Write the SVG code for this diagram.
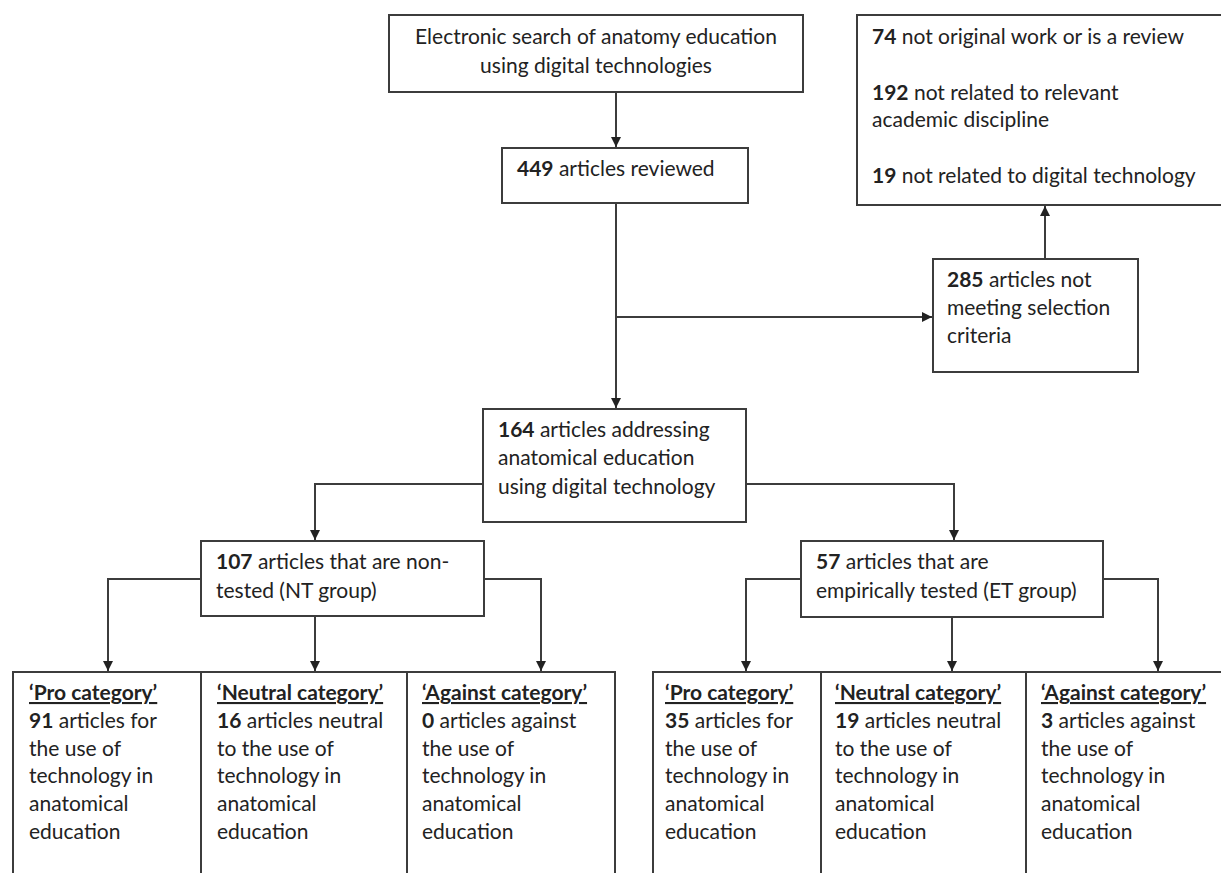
<svg xmlns="http://www.w3.org/2000/svg" width="1221" height="873" viewBox="0 0 1221 873">
<style>
.box{fill:#fff;stroke:#3c3c3c;stroke-width:2}
.con{fill:none;stroke:#3c3c3c;stroke-width:2}
text{font-family:Lato,"Liberation Sans",sans-serif;font-size:21px;fill:#222}
.b{font-weight:bold}
.h{font-weight:bold;text-decoration:underline}
</style>
<defs>
<marker id="arr" viewBox="0 0 10 10" refX="10" refY="5" markerWidth="5" markerHeight="5" orient="auto" markerUnits="strokeWidth">
<path d="M0,0 L10,5 L0,10 z" fill="#222"/>
</marker>
</defs>
<rect width="1221" height="873" fill="#fff"/>
<g id="connectors">
<path class="con" d="M616,92 V147" marker-end="url(#arr)"/>
<path class="con" d="M616,203 V408" marker-end="url(#arr)"/>
<path class="con" d="M616,317 H932" marker-end="url(#arr)"/>
<path class="con" d="M1045,259 V206" marker-end="url(#arr)"/>
<path class="con" d="M483,484 H315 V540" marker-end="url(#arr)"/>
<path class="con" d="M746,484 H954 V540" marker-end="url(#arr)"/>
<path class="con" d="M201,579 H108 V671" marker-end="url(#arr)"/>
<path class="con" d="M315,616 V671" marker-end="url(#arr)"/>
<path class="con" d="M484,579 H541 V671" marker-end="url(#arr)"/>
<path class="con" d="M801,579 H746 V671" marker-end="url(#arr)"/>
<path class="con" d="M952,617 V671" marker-end="url(#arr)"/>
<path class="con" d="M1103,579 H1158 V671" marker-end="url(#arr)"/>
</g>
<g id="search">
<rect class="box" x="389" y="15" width="414" height="77"/>
<text x="596" y="44" text-anchor="middle">Electronic search of anatomy education</text>
<text x="596" y="73" text-anchor="middle">using digital technologies</text>
</g>
<g id="reviewed">
<rect class="box" x="502" y="148" width="246" height="55"/>
<text x="517" y="176"><tspan class="b">449</tspan> articles reviewed</text>
</g>
<g id="excluded">
<rect class="box" x="857" y="15" width="370" height="190"/>
<text x="872" y="44"><tspan class="b">74</tspan> not original work or is a review</text>
<text x="872" y="100"><tspan class="b">192</tspan> not related to relevant</text>
<text x="872" y="127">academic discipline</text>
<text x="872" y="183"><tspan class="b">19</tspan> not related to digital technology</text>
</g>
<g id="notmeeting">
<rect class="box" x="933" y="259" width="205" height="113"/>
<text x="947" y="287"><tspan class="b">285</tspan> articles not</text>
<text x="947" y="315">meeting selection</text>
<text x="947" y="343">criteria</text>
</g>
<g id="addressing">
<rect class="box" x="483" y="409" width="263" height="113"/>
<text x="498" y="437"><tspan class="b">164</tspan> articles addressing</text>
<text x="498" y="465">anatomical education</text>
<text x="498" y="494">using digital technology</text>
</g>
<g id="nt">
<rect class="box" x="201" y="541" width="283" height="75"/>
<text x="216" y="569"><tspan class="b">107</tspan> articles that are non-</text>
<text x="216" y="598">tested (NT group)</text>
</g>
<g id="et">
<rect class="box" x="801" y="541" width="302" height="76"/>
<text x="816" y="569"><tspan class="b">57</tspan> articles that are</text>
<text x="816" y="598">empirically tested (ET group)</text>
</g>
<g id="nt-pro">
<rect class="box" x="13" y="672" width="188" height="220"/>
<text x="29" y="700" class="h">‘Pro category’</text>
<text x="29" y="728"><tspan class="b">91</tspan> articles for</text>
<text x="29" y="756">the use of</text>
<text x="29" y="783">technology in</text>
<text x="29" y="811">anatomical</text>
<text x="29" y="839">education</text>
</g>
<g id="nt-neutral">
<rect class="box" x="201" y="672" width="206" height="220"/>
<text x="217" y="700" class="h">‘Neutral category’</text>
<text x="217" y="728"><tspan class="b">16</tspan> articles neutral</text>
<text x="217" y="756">to the use of</text>
<text x="217" y="783">technology in</text>
<text x="217" y="811">anatomical</text>
<text x="217" y="839">education</text>
</g>
<g id="nt-against">
<rect class="box" x="407" y="672" width="208" height="220"/>
<text x="422" y="700" class="h">‘Against category’</text>
<text x="422" y="728"><tspan class="b">0</tspan> articles against</text>
<text x="422" y="756">the use of</text>
<text x="422" y="783">technology in</text>
<text x="422" y="811">anatomical</text>
<text x="422" y="839">education</text>
</g>
<g id="et-pro">
<rect class="box" x="653" y="672" width="168" height="220"/>
<text x="665" y="700" class="h">‘Pro category’</text>
<text x="665" y="728"><tspan class="b">35</tspan> articles for</text>
<text x="665" y="756">the use of</text>
<text x="665" y="783">technology in</text>
<text x="665" y="811">anatomical</text>
<text x="665" y="839">education</text>
</g>
<g id="et-neutral">
<rect class="box" x="821" y="672" width="205" height="220"/>
<text x="835" y="700" class="h">‘Neutral category’</text>
<text x="835" y="728"><tspan class="b">19</tspan> articles neutral</text>
<text x="835" y="756">to the use of</text>
<text x="835" y="783">technology in</text>
<text x="835" y="811">anatomical</text>
<text x="835" y="839">education</text>
</g>
<g id="et-against">
<rect class="box" x="1026" y="672" width="210" height="220"/>
<text x="1041" y="700" class="h">‘Against category’</text>
<text x="1041" y="728"><tspan class="b">3</tspan> articles against</text>
<text x="1041" y="756">the use of</text>
<text x="1041" y="783">technology in</text>
<text x="1041" y="811">anatomical</text>
<text x="1041" y="839">education</text>
</g>
</svg>
